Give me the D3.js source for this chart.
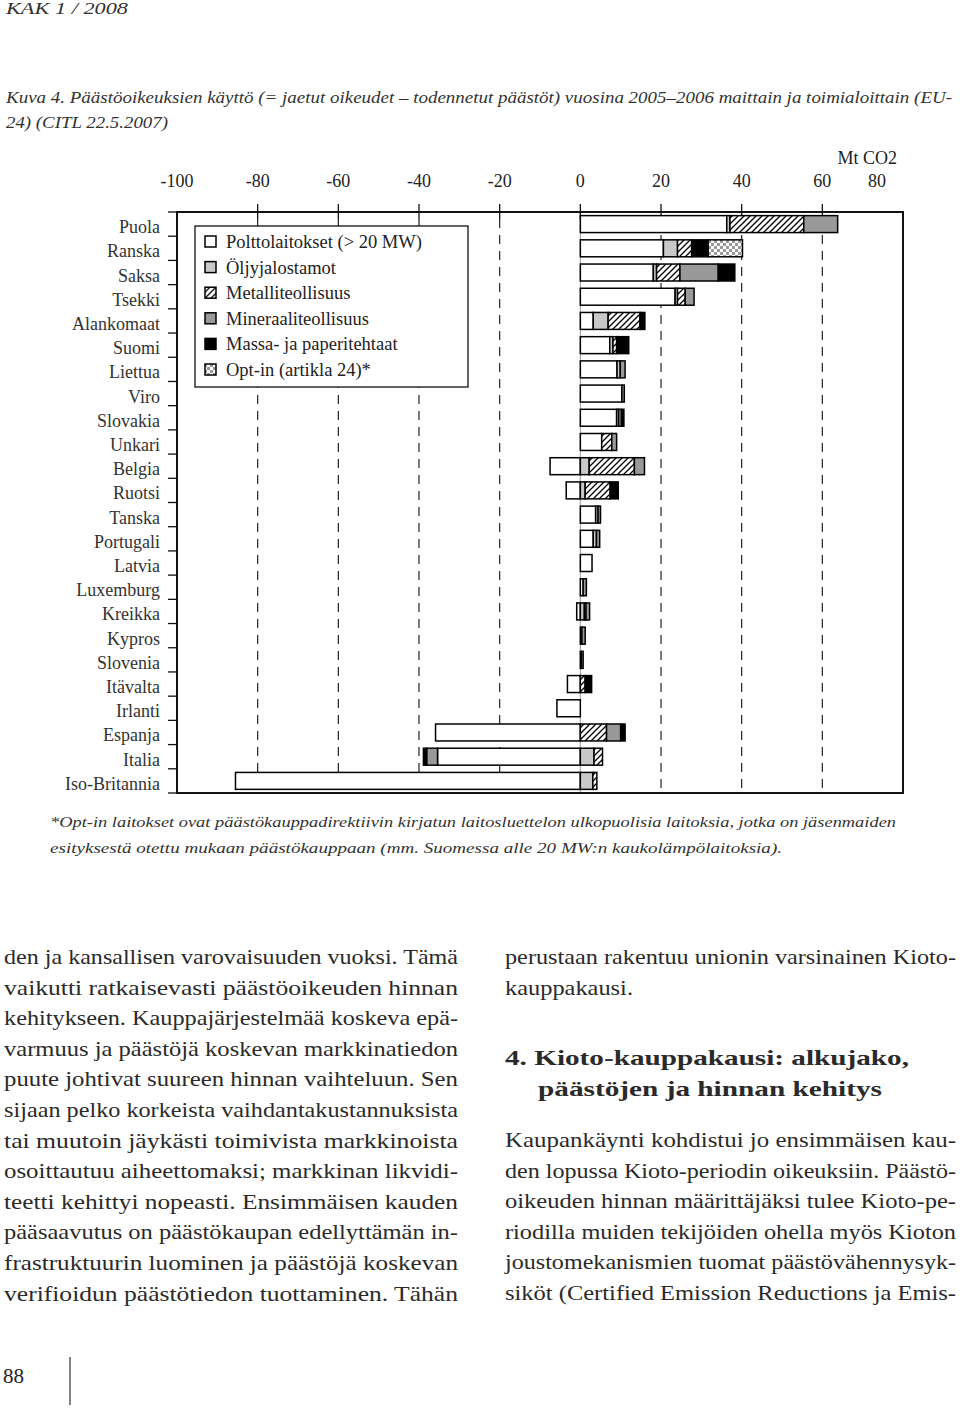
<!DOCTYPE html>
<html><head><meta charset="utf-8">
<script src="https://cdn.jsdelivr.net/npm/d3@7/dist/d3.min.js"></script>
<style>
body{margin:0;background:#fff;}
svg{display:block;font-family:"Liberation Serif","DejaVu Serif",serif;}
</style></head>
<body>
<svg id="page" width="960" height="1408"></svg>
<script>
// ---- data ----
const countries = ["Puola","Ranska","Saksa","Tsekki","Alankomaat","Suomi","Liettua","Viro","Slovakia","Unkari","Belgia","Ruotsi","Tanska","Portugali","Latvia","Luxemburg","Kreikka","Kypros","Slovenia","Itävalta","Irlanti","Espanja","Italia","Iso-Britannia"];
const seriesNames = ["Polttolaitokset (> 20 MW)","Öljyjalostamot","Metalliteollisuus","Mineraaliteollisuus","Massa- ja paperitehtaat","Opt-in (artikla 24)*"];
const poltto   = [36.3,20.6,18.1,23.5,3.2,7.3,9.1,10.3,9.0,5.3,-7.5,-3.5,3.8,3.2,2.9,0.7,-0.9,0.4,0.3,-3.2,-5.8,-35.9,-35.4,-85.5];
const oljy     = [0.8,3.5,0.8,0.6,3.7,0.8,0.8,0,0.5,0,2.2,1.2,0.6,0.8,0,0,1.0,0,0,0,0,0,3.4,3.1];
const metalli  = [18.3,3.5,5.8,1.9,7.9,0.9,0,0,0,2.5,11.2,6.2,0,0,0,0,0.4,0,0,1.2,0,6.5,2.1,1.0];
const mineraali= [8.4,0,9.5,2.2,0,0,1.2,0.6,0.7,1.2,2.5,0,0.6,0.8,0,0.8,0.9,0.8,0.4,0,0,3.5,-2.7,0];
const massa    = [0,4.1,4.1,0,1.2,3.0,0,0,0.6,0,0,2.0,0,0,0,0,0,0,0,1.6,0,1.1,-0.8,0];
const optin    = [0,8.5,0,0,0,0,0,0,0,0,0,0,0,0,0,0,0,0,0,0,0,0,0,0];
const xTicks = [-100,-80,-60,-40,-20,0,20,40,60,80];

const rows = countries.map((c,i)=>({country:c, s0:poltto[i], s1:oljy[i], s2:metalli[i], s3:mineraali[i], s4:massa[i], s5:optin[i]}));
const keys = ["s0","s1","s2","s3","s4","s5"];

const svg = d3.select("#page");
const defs = svg.append("defs");
const h = defs.append("pattern").attr("id","hatch").attr("patternUnits","userSpaceOnUse").attr("width",6).attr("height",6);
h.append("rect").attr("width",6).attr("height",6).attr("fill","#fff");
h.append("path").attr("d","M0,6 L6,0 M-1.5,1.5 L1.5,-1.5 M4.5,7.5 L7.5,4.5").attr("stroke","#000").attr("stroke-width",1.3);
const ck = defs.append("pattern").attr("id","checker").attr("patternUnits","userSpaceOnUse").attr("width",6).attr("height",6);
ck.append("rect").attr("width",6).attr("height",6).attr("fill","#fff");
ck.append("rect").attr("width",3).attr("height",3).attr("fill","#9a9a9a");
ck.append("rect").attr("x",3).attr("y",3).attr("width",3).attr("height",3).attr("fill","#9a9a9a");

const fills = ["#ffffff","#c8c8c8","url(#hatch)","#999999","#000000","url(#checker)"];
const color = d3.scaleOrdinal().domain(keys).range(fills);

const serifIt = "'Liberation Serif','DejaVu Serif',serif";

// ---- header texts ----
svg.append("text").attr("x",6).attr("y",14).attr("font-size",17).attr("font-style","italic").attr("font-family",serifIt).attr("fill","#333")
  .attr("textLength",122).attr("lengthAdjust","spacingAndGlyphs").text("KAK 1 / 2008");
svg.append("text").attr("x",6).attr("y",103).attr("font-size",17).attr("font-style","italic").attr("font-family",serifIt).attr("fill","#333")
  .attr("textLength",946).attr("lengthAdjust","spacingAndGlyphs")
  .text("Kuva 4. Päästöoikeuksien käyttö (= jaetut oikeudet – todennetut päästöt) vuosina 2005–2006 maittain ja toimialoittain (EU-");
svg.append("text").attr("x",6).attr("y",128).attr("font-size",17).attr("font-style","italic").attr("font-family",serifIt).attr("fill","#333")
  .attr("textLength",162).attr("lengthAdjust","spacingAndGlyphs").text("24) (CITL 22.5.2007)");

// ---- scales ----
const x = d3.scaleLinear().domain([-100,80]).range([177,903]);
const y = d3.scaleBand().domain(countries).range([212,793]).padding(0);
const bw = y.bandwidth();

svg.append("g").selectAll("text").data(xTicks).join("text")
  .attr("x",d=>x(d) - (d===80 ? 26 : 0)).attr("y",187).attr("text-anchor","middle")
  .attr("font-size",18).attr("fill","#222").text(d=>d);
svg.append("text").attr("x",897).attr("y",164).attr("text-anchor","end").attr("font-size",18).attr("fill","#222").text("Mt CO2");

const inner = xTicks.filter(d=>d>-100 && d<80);
svg.append("g").selectAll("line").data(inner.filter(d=>d!==0)).join("line")
  .attr("x1",d=>x(d)).attr("x2",d=>x(d)).attr("y1",219).attr("y2",793)
  .attr("stroke","#222").attr("stroke-width",1.2).attr("stroke-dasharray","9,7");
svg.append("line").attr("x1",x(0)).attr("x2",x(0)).attr("y1",212).attr("y2",793).attr("stroke","#999").attr("stroke-width",1);
svg.append("g").selectAll("line").data(inner).join("line")
  .attr("x1",d=>x(d)).attr("x2",d=>x(d)).attr("y1",204).attr("y2",219)
  .attr("stroke","#111").attr("stroke-width",1.3);
svg.append("g").selectAll("line").data(d3.range(countries.length+1)).join("line")
  .attr("x1",168).attr("x2",177).attr("y1",i=>212+i*y.step()).attr("y2",i=>212+i*y.step())
  .attr("stroke","#111").attr("stroke-width",1.3);
svg.append("g").selectAll("text").data(countries).join("text")
  .attr("x",160).attr("y",d=>y(d)+bw/2+9).attr("text-anchor","end")
  .attr("font-size",18).attr("fill","#333").text(d=>d);

// ---- bars ----
const stacked = d3.stack().keys(keys).offset(d3.stackOffsetDiverging)(rows);
svg.append("g").selectAll("g").data(stacked).join("g")
  .attr("fill",d=>color(d.key))
  .selectAll("rect").data(d=>d.filter(s=>s[1]!==s[0])).join("rect")
  .attr("x",d=>x(Math.min(d[0],d[1])))
  .attr("width",d=>Math.abs(x(d[1])-x(d[0])))
  .attr("y",d=>y(d.data.country)+bw*0.15)
  .attr("height",bw*0.7)
  .attr("stroke","#000").attr("stroke-width",1.5);

svg.append("rect").attr("x",177).attr("y",212).attr("width",726).attr("height",581)
  .attr("fill","none").attr("stroke","#111").attr("stroke-width",2);

// ---- legend ----
const lg = svg.append("g");
lg.append("rect").attr("x",195).attr("y",226).attr("width",273).attr("height",161).attr("fill","#fff").attr("stroke","#111").attr("stroke-width",1.3);
const li = lg.selectAll("g").data(keys).join("g").attr("transform",(d,i)=>`translate(0,${242+i*25.6})`);
li.append("rect").attr("x",205).attr("y",-6).attr("width",11).attr("height",11).attr("fill",d=>color(d)).attr("stroke","#000").attr("stroke-width",1.5);
li.append("text").attr("x",226).attr("y",6).attr("font-size",18.5).attr("fill","#222").text((d,i)=>seriesNames[i]);

// ---- footnote ----
svg.append("text").attr("x",50).attr("y",827).attr("font-size",15.5).attr("font-style","italic").attr("font-family",serifIt).attr("fill","#333")
  .attr("textLength",846).attr("lengthAdjust","spacingAndGlyphs")
  .text("*Opt-in laitokset ovat päästökauppadirektiivin kirjatun laitosluettelon ulkopuolisia laitoksia, jotka on jäsenmaiden");
svg.append("text").attr("x",50).attr("y",853).attr("font-size",15.5).attr("font-style","italic").attr("font-family",serifIt).attr("fill","#333")
  .attr("textLength",732).attr("lengthAdjust","spacingAndGlyphs")
  .text("esityksestä otettu mukaan päästökauppaan (mm. Suomessa  alle 20 MW:n kaukolämpölaitoksia).");

// ---- body text ----
const leftLines = [
 "den ja kansallisen varovaisuuden vuoksi. Tämä",
 "vaikutti ratkaisevasti päästöoikeuden hinnan",
 "kehitykseen. Kauppajärjestelmää koskeva epä-",
 "varmuus ja päästöjä koskevan markkinatiedon",
 "puute johtivat suureen hinnan vaihteluun. Sen",
 "sijaan pelko korkeista vaihdantakustannuksista",
 "tai muutoin jäykästi toimivista markkinoista",
 "osoittautuu aiheettomaksi; markkinan likvidi-",
 "teetti kehittyi nopeasti. Ensimmäisen kauden",
 "pääsaavutus on päästökaupan edellyttämän in-",
 "frastruktuurin luominen ja päästöjä koskevan",
 "verifioidun päästötiedon tuottaminen. Tähän"
];
const lh = 30.6;
leftLines.forEach((l,i)=>{
  svg.append("text").attr("x",4).attr("y",964+i*lh).attr("font-size",21).attr("fill","#2a2a2a")
    .attr("textLength",454).attr("lengthAdjust","spacingAndGlyphs").text(l);
});
const rightLines = [
 {t:"perustaan rakentuu unionin varsinainen Kioto-",y:964,w:451},
 {t:"kauppakausi.",y:964+lh,w:128},
 {t:"4. Kioto-kauppakausi: alkujako,",y:1065,w:404,b:true},
 {t:"päästöjen ja hinnan kehitys",y:1096,w:344,b:true,x:538},
 {t:"Kaupankäynti kohdistui jo ensimmäisen kau-",y:1147,w:451},
 {t:"den lopussa Kioto-periodin oikeuksiin. Päästö-",y:1147+lh,w:451},
 {t:"oikeuden hinnan määrittäjäksi tulee Kioto-pe-",y:1147+2*lh,w:451},
 {t:"riodilla muiden tekijöiden ohella myös Kioton",y:1147+3*lh,w:451},
 {t:"joustomekanismien tuomat päästövähennysyk-",y:1147+4*lh,w:451},
 {t:"siköt (Certified Emission Reductions ja Emis-",y:1147+5*lh,w:451}
];
rightLines.forEach(l=>{
  svg.append("text").attr("x",l.x||505).attr("y",l.y).attr("font-size",l.b?22:21)
    .attr("font-weight",l.b?"bold":"normal").attr("fill","#2a2a2a")
    .attr("textLength",l.w).attr("lengthAdjust","spacingAndGlyphs").text(l.t);
});

svg.append("text").attr("x",3).attr("y",1383).attr("font-size",21).attr("fill","#222").text("88");
svg.append("line").attr("x1",70).attr("x2",70).attr("y1",1357).attr("y2",1405).attr("stroke","#333").attr("stroke-width",1.2);
</script>
</body></html>
